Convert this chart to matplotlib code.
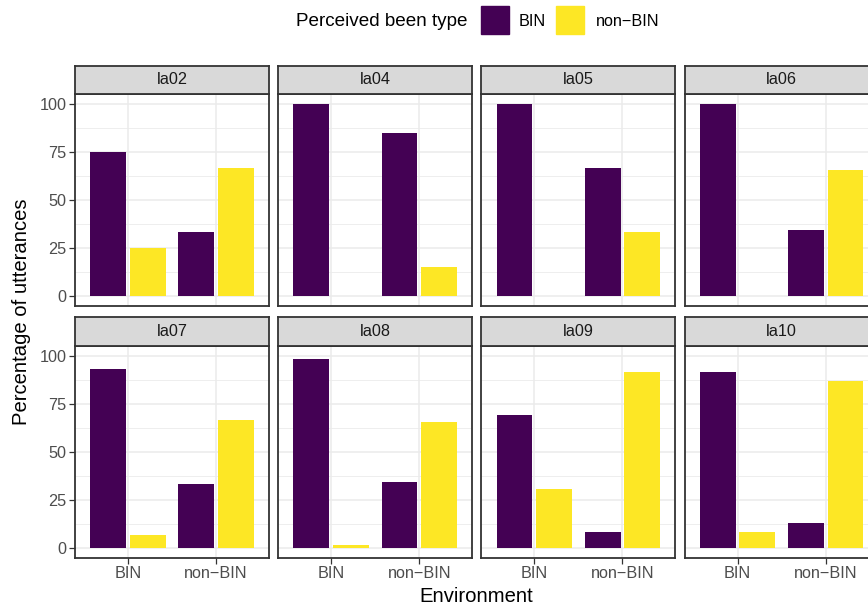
import matplotlib.pyplot as plt
from matplotlib.patches import Rectangle

plt.rcParams['font.family'] = ['Liberation Sans', 'DejaVu Sans']

speakers = ['la02', 'la04', 'la05', 'la06', 'la07', 'la08', 'la09', 'la10']
environments = ['BIN', 'non\u2212BIN']
perceived_types = ['BIN', 'non\u2212BIN']

# percentage of utterances, by environment and perceived type
env_bin_perc_bin = [75, 100, 100, 100, 93.3, 98, 69.2, 91.7]
env_bin_perc_nonbin = [25, 0, 0, 0, 6.7, 2, 30.8, 8.3]
env_nonbin_perc_bin = [33.3, 85, 66.7, 34.5, 33.3, 34.5, 8.5, 13.3]
env_nonbin_perc_nonbin = [66.7, 15, 33.3, 65.5, 66.7, 65.5, 91.5, 86.7]

colors = ['#440154', '#FDE725']
W, H = 868, 607
fig = plt.figure(figsize=(W / 100, H / 100), dpi=100)


def box(l, t, w, h):
    return [l / W, 1 - (t + h) / H, w / W, h / H]


grid_c = '#EBEBEB'
edge_c = '#333333'
pitch = 203.2
pw = 194
rows = [(66, 94, 306), (317, 346, 558)]

for k, sp in enumerate(speakers):
    r, c = divmod(k, 4)
    st, pt, pb = rows[r]
    left = 75 + c * pitch
    ax = fig.add_axes(box(left, pt, pw, pb - pt))
    strip = fig.add_axes(box(left, st, pw, pt - st))

    xs = [1, 2]
    purple = [env_bin_perc_bin[k], env_nonbin_perc_bin[k]]
    yellow = [env_bin_perc_nonbin[k], env_nonbin_perc_nonbin[k]]
    ax.bar([x - 0.225 for x in xs], purple, width=0.405, color=colors[0], zorder=3)
    ax.bar([x + 0.225 for x in xs], yellow, width=0.405, color=colors[1], zorder=3)

    ax.set_xlim(0.4, 2.6)
    ax.set_ylim(-5, 105)
    ax.set_yticks([0, 25, 50, 75, 100])
    ax.set_yticks([12.5, 37.5, 62.5, 87.5], minor=True)
    ax.set_xticks(xs)
    ax.grid(True, which='major', color=grid_c, lw=1.1, zorder=0)
    ax.grid(True, which='minor', axis='y', color=grid_c, lw=0.6, zorder=0)
    ax.tick_params(which='minor', length=0)
    ax.tick_params(which='major', length=4, width=0.9, color=edge_c,
                   labelsize=11.7, labelcolor='#4D4D4D', pad=2)
    if c == 0:
        ax.set_yticklabels(['0', '25', '50', '75', '100'])
    else:
        ax.tick_params(axis='y', left=False, labelleft=False)
    if r == 1:
        ax.set_xticklabels(environments)
    else:
        ax.tick_params(axis='x', bottom=False, labelbottom=False)
    for s in ax.spines.values():
        s.set_color(edge_c)
        s.set_linewidth(1.3)

    strip.set_facecolor('#D9D9D9')
    strip.set_xticks([])
    strip.set_yticks([])
    for s in strip.spines.values():
        s.set_color(edge_c)
        s.set_linewidth(1.3)
    strip.text(0.5, 0.5, sp, ha='center', va='center', fontsize=11.7,
               color='#1A1A1A', transform=strip.transAxes)

fig.text(476 / W, 1 - 597 / H, 'Environment', ha='center', va='center', fontsize=14.6)
fig.text(22 / W, 1 - 312 / H, 'Percentage of utterances', ha='center', va='center',
         rotation=90, fontsize=14.6)

# legend on top
fig.text(468 / W, 1 - 21 / H, 'Perceived been type', ha='right', va='center', fontsize=13.6)
key_x = [481, 556]
label_x = [519, 596]
for i, lab in enumerate(perceived_types):
    fig.add_artist(Rectangle((key_x[i] / W, 1 - 34 / H), 28 / W, 28 / H,
                             color=colors[i], transform=fig.transFigure))
    fig.text(label_x[i] / W, 1 - 21 / H, lab, ha='left', va='center', fontsize=11.7)

fig.savefig('out.png', dpi=100)
